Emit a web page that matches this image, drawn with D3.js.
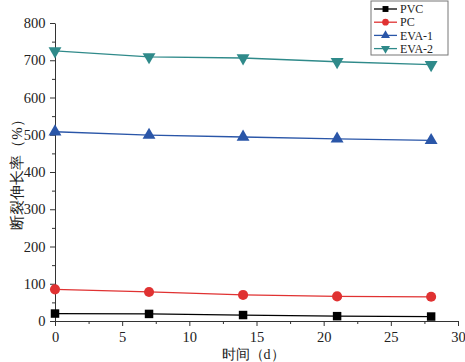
<!DOCTYPE html>
<html>
<head>
<meta charset="utf-8">
<script src="https://cdnjs.cloudflare.com/ajax/libs/d3/7.8.5/d3.min.js"></script>
<style>
  body { margin: 0; background: #fff; }
  text { font-family: "Liberation Serif", "Times New Roman", serif; fill: #222; }
</style>
</head>
<body>
<div id="chart"></div>
<script>
// data
var days = [0, 7, 14, 21, 28];
var pvc = [20, 19, 16, 13, 12];
var pc = [85, 78, 70, 66, 65];
var eva1 = [508, 499, 494, 489, 485];
var eva2 = [725, 709, 706, 696, 688];
var seriesNames = ["PVC", "PC", "EVA-1", "EVA-2"];
var seriesColors = ["#000000", "#e03232", "#2a56a8", "#2f8a8a"];
var seriesShapes = [d3.symbolSquare, d3.symbolCircle, d3.symbolTriangle, "down"];

var margin = { top: 23, left: 55 };
var width = 403, height = 298;

var svg = d3.select("#chart").append("svg")
  .attr("width", 465).attr("height", 362);
var g = svg.append("g").attr("transform", "translate(" + margin.left + "," + margin.top + ")");

var x = d3.scaleLinear().domain([0, 30]).range([0, width]);
var y = d3.scaleLinear().domain([0, 800]).range([height, 0]);

// minor ticks
g.append("g").attr("transform", "translate(0," + height + ")")
  .call(d3.axisBottom(x).tickValues(d3.range(2.5, 30, 5)).tickSize(3).tickFormat(""))
  .call(s => s.select(".domain").remove());
g.append("g")
  .call(d3.axisLeft(y).tickValues(d3.range(50, 800, 100)).tickSize(3).tickFormat(""))
  .call(s => s.select(".domain").remove());

var xAxis = g.append("g").attr("transform", "translate(0," + height + ")")
  .call(d3.axisBottom(x).tickValues(d3.range(0, 31, 5)).tickSize(5).tickSizeOuter(0));
var yAxis = g.append("g")
  .call(d3.axisLeft(y).tickValues(d3.range(0, 801, 100)).tickSize(5).tickSizeOuter(0));
g.selectAll(".tick line").attr("stroke", "#333");
g.selectAll(".domain").attr("stroke", "#333");
xAxis.selectAll("text").attr("font-size", 14.5).attr("font-family", "Liberation Serif").attr("fill", "#333").attr("dy", "0.9em");
yAxis.selectAll("text").attr("font-size", 14.5).attr("font-family", "Liberation Serif").attr("fill", "#333").attr("dx", "-0.1em");

function symbolPath(shape, size) {
  if (shape === "down") {
    return d3.symbol().type(d3.symbolTriangle).size(size)();
  }
  return d3.symbol().type(shape).size(size)();
}

var allSeries = [pvc, pc, eva1, eva2];
allSeries.forEach(function (vals, i) {
  var line = d3.line().x((d, j) => x(days[j])).y(d => y(d));
  g.append("path").datum(vals)
    .attr("d", line)
    .attr("fill", "none")
    .attr("stroke", seriesColors[i])
    .attr("stroke-width", 1.3);
  g.selectAll(".m" + i).data(vals).enter().append("path")
    .attr("class", "m" + i)
    .attr("d", symbolPath(seriesShapes[i], i == 1 ? 80 : 72))
    .attr("transform", function (d, j) {
      var r = seriesShapes[i] === "down" ? " rotate(180)" : "";
      return "translate(" + x(days[j]) + "," + y(d) + ")" + r;
    })
    .attr("fill", seriesColors[i]);
});

// axis titles
svg.append("text")
  .attr("transform", "translate(22,171) rotate(-90)")
  .attr("text-anchor", "middle")
  .attr("font-size", 15)
  .attr("font-family", "Noto Sans CJK SC")
  .attr("fill", "#333")
  .text("断裂伸长率（%）");
svg.append("text")
  .attr("x", 253).attr("y", 359)
  .attr("text-anchor", "middle")
  .attr("font-size", 14)
  .attr("font-family", "Noto Sans CJK SC")
  .attr("fill", "#333")
  .text("时间（d）");

// legend
var legend = svg.append("g").attr("transform", "translate(371,1)");
legend.append("rect")
  .attr("width", 77).attr("height", 54)
  .attr("fill", "#fff").attr("stroke", "#777").attr("stroke-width", 1);
seriesNames.forEach(function (name, i) {
  var ly = 8 + i * 13.2;
  legend.append("line")
    .attr("x1", 3).attr("x2", 26).attr("y1", ly).attr("y2", ly)
    .attr("stroke", seriesColors[i]).attr("stroke-width", 1.3);
  legend.append("path")
    .attr("d", symbolPath(seriesShapes[i], 35))
    .attr("transform", "translate(14.5," + ly + ")" + (seriesShapes[i] === "down" ? " rotate(180)" : ""))
    .attr("fill", seriesColors[i]);
  legend.append("text")
    .attr("x", 29).attr("y", ly + 4.2)
    .attr("font-size", 12)
    .attr("fill", "#222")
    .text(name);
});
</script>
</body>
</html>
